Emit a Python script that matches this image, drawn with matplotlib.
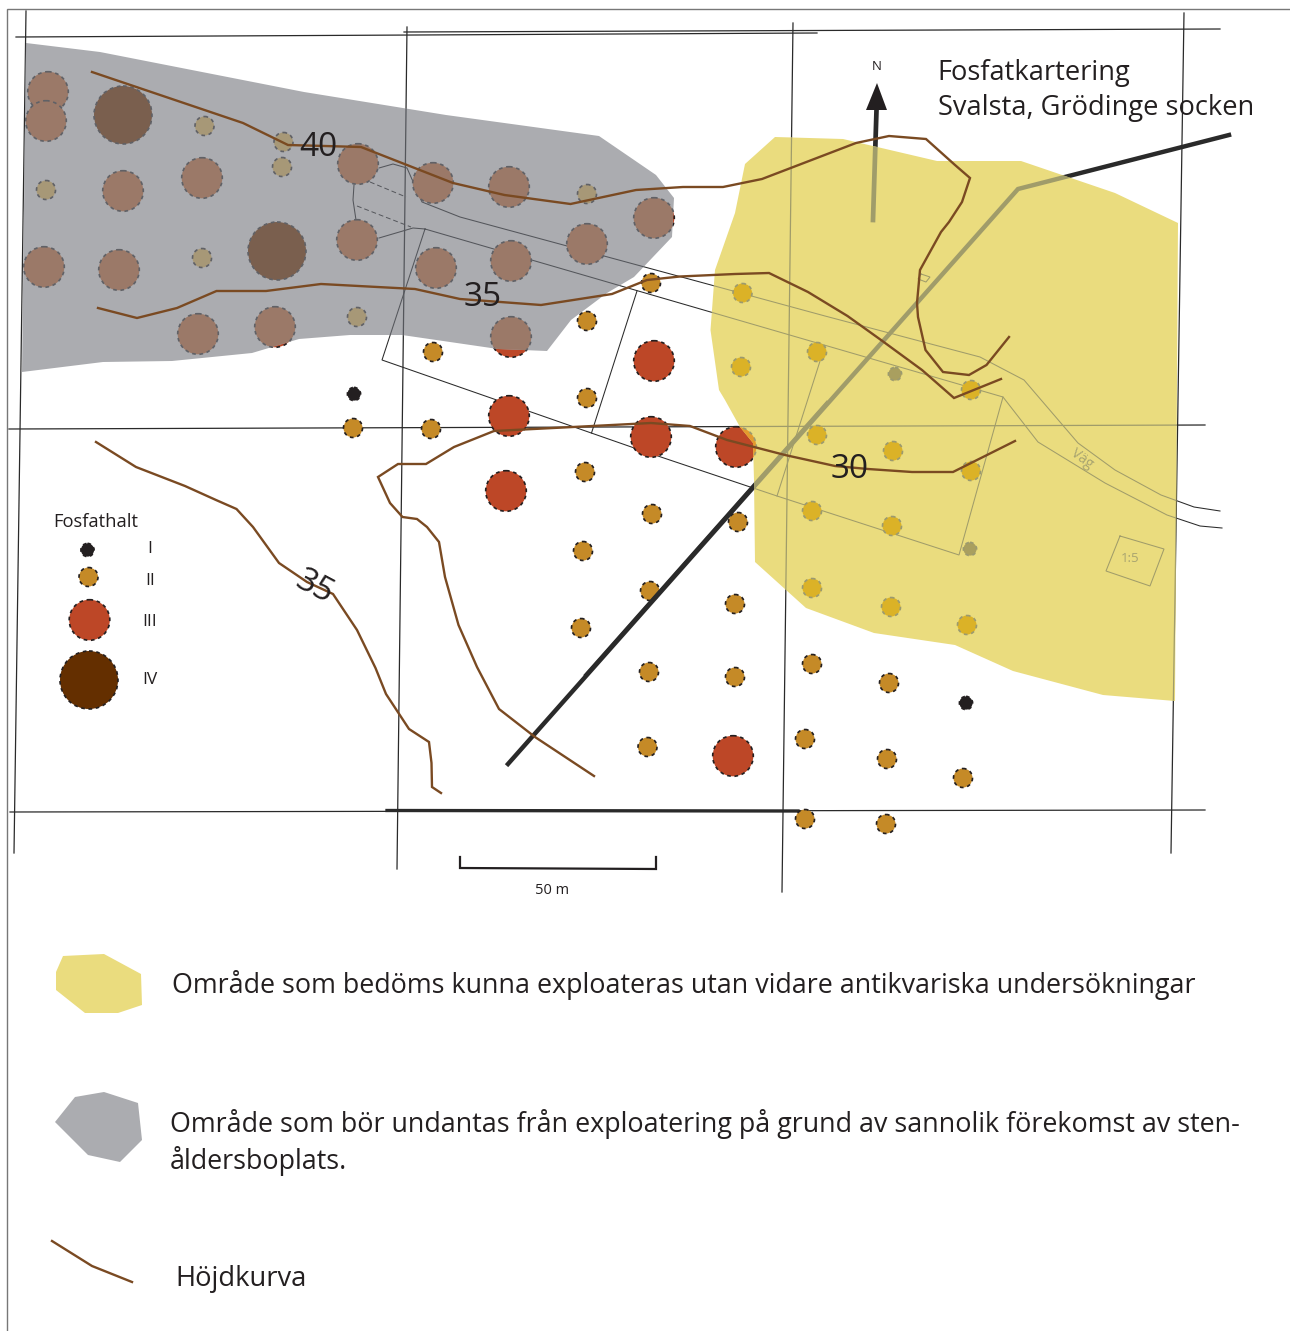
import matplotlib
matplotlib.use("Agg")
import matplotlib.pyplot as plt
from matplotlib.patches import Circle, Polygon

plt.rcParams['font.family'] = ['Open Sans', 'DejaVu Sans']

# Soil samples per phosphate class (map pixels)
class_i = [(354, 394), (895, 374), (970, 549), (966, 703)]
class_ii = [(204.5, 126), (283.5, 142), (282, 167), (46, 190), (587, 194), (202, 258), (357, 317),
            (651, 283), (587, 321), (433, 352), (587, 398), (353, 428), (431, 429),
            (742.5, 293), (817, 352), (741, 367), (971, 390), (817, 435), (893, 451), (971, 471),
            (652, 514), (738, 522), (812, 511), (892, 526), (650, 591), (735, 604), (812, 588),
            (891, 607), (967, 625), (649, 672), (735, 677), (812, 664), (889, 683), (647.5, 747),
            (805, 739), (887, 759), (963, 778), (805, 819), (886, 824), (585, 472), (583, 551),
            (581, 628)]
class_iii = [(48, 92), (46, 121), (123, 191), (202, 178), (44, 267), (119, 270), (357, 240),
             (358, 164), (433, 183), (509, 187), (654, 218), (587, 244), (511, 261), (436, 268),
             (198, 334), (275, 327), (511, 337), (654, 361), (509, 416), (651, 437), (736, 447),
             (733, 756), (506, 491)]
class_iv = [(123, 115), (277, 251)]
radius_i, radius_ii, radius_iii, radius_iv = 6.6, 9.5, 20.3, 29

# Legend samples
legend_points = [(87.5, 550, 'I'), (88.5, 577, 'II'), (89.5, 620, 'III'), (89, 680, 'IV')]

# Map grid and property lines
grid_lines = [[(26, 11), (14, 853)], [(407, 27), (397, 869)], [(793, 23), (782, 892)],
              [(1184, 13), (1171, 853)], [(16, 37), (817, 33)], [(404, 32), (1220, 29)],
              [(9, 429), (1205, 425)], [(10, 812), (1205, 810)]]
grid_thick = [(387, 810.5), (798, 811)]
box_outer = [(425, 229), (382, 360), (640, 450), (777, 496), (959, 555), (1003, 397), (425, 229)]
box_inner = [(637, 291), (591.5, 433)]
box_side = [(821, 358), (777, 496)]
road_top = [(379, 168), (393, 164), (407, 168), (422, 202), (460, 217), (700, 282), (825, 316),
            (980, 357), (1024, 380), (1078, 443), (1115, 470), (1161, 495), (1194, 507), (1220, 511)]
road_bottom = [(1003, 397), (1038, 442), (1105, 483), (1167, 515), (1200, 526), (1222, 528)]
track_left = [(379, 238), (413, 228), (425, 229)]
track_curve = [(354, 185), (353, 200), (356, 220)]
dashed_a = [(370, 182), (406, 197)]
dashed_b = [(357, 206), (411, 227)]
plot_box = [(1120, 536), (1164, 549), (1150, 586), (1106, 571), (1120, 536)]
small_box = [(921, 274), (930, 277), (926, 282), (918, 279), (921, 274)]

# Power line
pipe = [(1229, 135), (1018, 189), (508, 764)]
pipe_extra = [(827, 402), (585, 675)]

# North arrow
arrow_stem = [(873, 220), (876.5, 110)]
arrow_head = [(877, 83), (866, 110), (887, 110)]

# Zones
zone_grey = [(26, 43), (100, 52), (304, 92), (446, 115), (599, 136), (656, 175), (674, 198), (672, 237),
             (634, 277), (607, 293), (571, 320), (547, 351), (498, 349), (402, 335), (350, 335),
             (299, 339), (252, 353), (172, 361), (103, 362), (22, 372)]
zone_yellow = [(775, 137), (843, 139), (937, 161), (1021, 161), (1115, 193), (1178, 223), (1175, 701),
               (1103, 695), (1013, 671), (955, 645), (874, 633), (806, 608), (755, 562), (754, 480),
               (753, 443), (740, 427), (725, 400), (719, 390), (710.5, 330), (715, 270), (735, 213),
               (745, 164)]

# Height contours
contour_40 = [(92, 72), (243, 123), (288, 145), (361, 147), (453, 183), (504.5, 195), (570.5, 204),
              (636, 190), (683, 187), (723, 187), (762, 179), (856, 143), (889, 136), (926, 139),
              (955, 165), (970, 178), (962, 202), (949, 222), (941, 232), (920, 270), (917, 303),
              (918, 317), (925.5, 350), (943, 372), (969, 375), (986.5, 365), (1009, 337)]
contour_35 = [(98, 308), (137, 318), (177, 308), (216.5, 291), (266, 291), (321, 284), (415, 289),
              (460, 299), (541, 305), (612, 294), (647, 280), (680, 276.5), (735, 274), (769, 273),
              (808, 292), (847.5, 316), (881, 340), (922, 370), (954, 398), (1001, 379)]
contour_30 = [(1015, 441), (953, 472), (912, 472), (868, 469), (835, 466), (785, 455), (727, 440),
              (690, 426), (651, 423), (573, 427), (494, 431), (454, 447), (426, 464), (398, 464),
              (378, 477), (390, 503), (402.5, 517), (417, 519), (427, 527), (439, 542), (445, 577),
              (458.5, 625), (477, 667), (499, 709), (535, 737), (594, 776)]
contour_left = [(96, 442), (136, 467), (185, 486), (216, 500), (236.5, 509), (253, 527), (279, 563),
                (307, 582), (333, 594), (357, 630), (375.5, 668), (386, 694), (409, 729), (429, 742),
                (431.5, 763), (432, 787), (441, 793)]

# Scale bar and legend swatches
scale_bar = [(460, 857), (460, 868), (656, 869), (656, 857)]
swatch_yellow = [(63, 956), (104, 954), (141, 974), (142, 1005), (118, 1013), (85, 1013), (56, 990), (56, 972)]
swatch_grey = [(75, 1097), (104, 1092), (138, 1103), (142, 1140), (120, 1162), (88, 1155), (55, 1122)]
swatch_line = [(52, 1241), (92, 1266), (132, 1282)]
frame_line = [(7, 1331), (7, 9), (1290, 9)]

BLACK = '#231f20'
BROWN = '#7a4a22'


def line(ax, pts, color, lw, z, clip=None, **kw):
    xs = [p[0] for p in pts]
    ys = [p[1] for p in pts]
    l, = ax.plot(xs, ys, color=color, lw=lw, solid_joinstyle='miter', zorder=z, **kw)
    if clip is not None:
        l.set_clip_path(clip)
    return l


def sample(ax, x, y, r, face, edge, z, clip=None):
    c = Circle((x, y), r, facecolor=face, edgecolor=edge, lw=1.2, ls=(0, (2.2, 2.2)), zorder=z)
    ax.add_patch(c)
    if clip is not None:
        c.set_clip_path(clip)


# everything below the zones, redrawn muted inside each zone
def base_layer(ax, line_col, faces, edge, z, clip=None):
    for g in grid_lines:
        line(ax, g, line_col, 0.9, z, clip)
    line(ax, grid_thick, line_col, 2.4, z, clip)
    for b in [box_outer, box_inner, box_side, road_top, road_bottom, track_left, track_curve, plot_box, small_box]:
        line(ax, b, line_col, 0.75, z, clip)
    for d in [dashed_a, dashed_b]:
        line(ax, d, line_col, 0.7, z, clip, linestyle=(0, (5, 3)))
    for pts, r, f in zip([class_iii, class_iv, class_ii, class_i],
                         [radius_iii, radius_iv, radius_ii, radius_i],
                         [faces['III'], faces['IV'], faces['II'], faces['I']]):
        for x, y in pts:
            sample(ax, x, y, r, f, edge if f != BLACK else BLACK, z + 0.1, clip)
    line(ax, pipe, line_col, 3.2, z + 0.2, clip)
    line(ax, pipe_extra, line_col, 1.8, z + 0.2, clip)
    line(ax, arrow_stem, line_col, 3.4, z + 0.2, clip)


fig = plt.figure(figsize=(12.9, 13.31), dpi=100)
ax = fig.add_axes([0, 0, 1, 1])
ax.set_xlim(0, 1290)
ax.set_ylim(1331, 0)
ax.axis('off')

line(ax, frame_line, '#777777', 1.0, 0.5)

base_layer(ax, '#2a2a2a', {'I': BLACK, 'II': '#c58a27', 'III': '#bd4727', 'IV': '#642f00'}, BLACK, 1.0)
ax.add_patch(Polygon(arrow_head, closed=True, facecolor=BLACK, edgecolor='none', zorder=1.3))

grey_patch = Polygon(zone_grey, closed=True, facecolor='#abacb0', edgecolor='none', zorder=1.5)
ax.add_patch(grey_patch)
base_layer(ax, '#54565b', {'I': '#555555', 'II': '#a79877', 'III': '#9b7968', 'IV': '#7a5f4e'},
           '#606166', 1.6, grey_patch)

yellow_patch = Polygon(zone_yellow, closed=True, facecolor='#eadc7e', edgecolor='none', zorder=2.0)
ax.add_patch(yellow_patch)
base_layer(ax, '#a09c6a', {'I': '#a99f5f', 'II': '#dbb227', 'III': '#e39a2e', 'IV': '#a08030'},
           '#9b9a70', 2.1, yellow_patch)

# contours sit on top of the zones
for c in [contour_40, contour_35, contour_30, contour_left]:
    line(ax, c, BROWN, 1.7, 2.6)

# contour numbers
ax.text(318, 148, '40', fontsize=24, color=BLACK, ha='center', va='center', zorder=3)
ax.text(483, 298, '35', fontsize=24, color=BLACK, ha='center', va='center', zorder=3)
ax.text(850, 470, '30', fontsize=24, color=BLACK, ha='center', va='center', zorder=3)
ax.text(314, 587, '35', fontsize=24, color=BLACK, ha='center', va='center', rotation=-28, zorder=3)

# map annotations
ax.text(877, 66, 'N', fontsize=9.5, color=BLACK, ha='center', va='center', zorder=3)
ax.text(937, 73, 'Fosfatkartering', fontsize=19.6, color=BLACK, ha='left', va='center', zorder=3)
ax.text(938, 108, 'Svalsta, Grödinge socken', fontsize=19.6, color=BLACK, ha='left', va='center', zorder=3)
ax.text(1082, 459, 'Väg', fontsize=10, color='#a8a470', ha='center', va='center', rotation=-36, zorder=3)
ax.text(1130, 559, '1:5', fontsize=9.5, color='#a8a470', ha='center', va='center', zorder=3)
ax.text(552, 890, '50 m', fontsize=10.5, color=BLACK, ha='center', va='center', zorder=3)
line(ax, scale_bar, BLACK, 1.6, 3)

# phosphate legend
ax.text(96, 522, 'Fosfathalt', fontsize=13.2, color=BLACK, ha='center', va='center', zorder=3)
for (x, y, name), r, f, ty in zip(legend_points, [radius_i, radius_ii, radius_iii, radius_iv],
                                  [BLACK, '#c58a27', '#bd4727', '#642f00'], [549, 581, 622, 680]):
    sample(ax, x, y, r, f, BLACK, 3)
    ax.text(150, ty, name, fontsize=12.5, color=BLACK, ha='center', va='center', zorder=3)

# zone legend
ax.add_patch(Polygon(swatch_yellow, closed=True, facecolor='#eadc7e', edgecolor='none', zorder=3))
ax.add_patch(Polygon(swatch_grey, closed=True, facecolor='#abacb0', edgecolor='none', zorder=3))
line(ax, swatch_line, BROWN, 1.7, 3)
ax.text(172, 985, 'Område som bedöms kunna exploateras utan vidare antikvariska undersökningar',
        fontsize=19.4, color=BLACK, ha='left', va='center', zorder=3)
ax.text(170, 1124, 'Område som bör undantas från exploatering på grund av sannolik förekomst av sten-',
        fontsize=19.4, color=BLACK, ha='left', va='center', zorder=3)
ax.text(170, 1161, 'åldersboplats.', fontsize=19.4, color=BLACK, ha='left', va='center', zorder=3)
ax.text(175, 1279, 'Höjdkurva', fontsize=19.7, color=BLACK, ha='left', va='center', zorder=3)

fig.savefig('out.png', dpi=100)
